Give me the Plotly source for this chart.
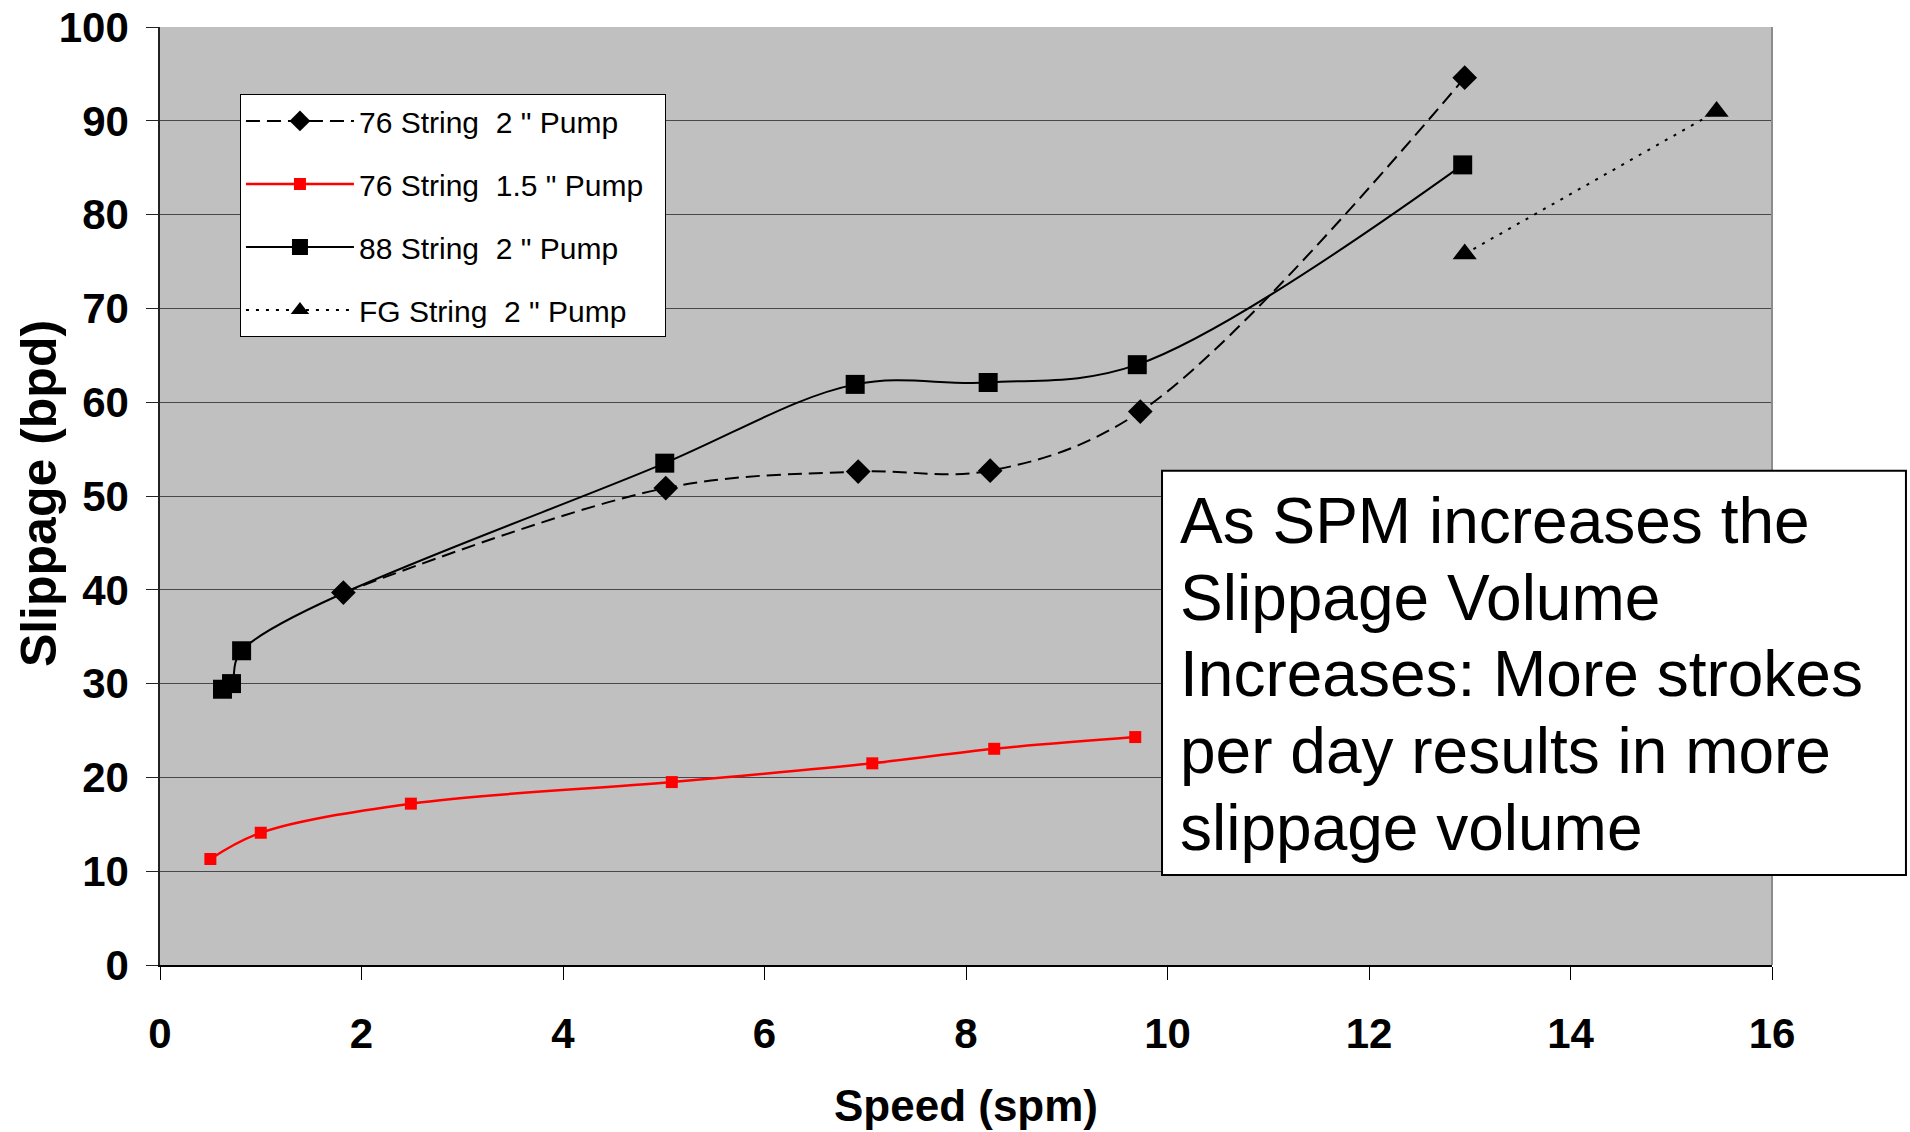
import plotly.graph_objects as go

# ---- data ----
s76_2_x = [1.82, 5.02, 6.93, 8.24, 9.73, 12.95]
s76_2_y = [39.7, 50.85, 52.6, 52.7, 59.0, 94.6]

s76_15_x = [0.50, 1.00, 2.49, 5.08, 7.07, 8.28, 9.68]
s76_15_y = [11.3, 14.1, 17.2, 19.5, 21.5, 23.05, 24.3]

s88_2_x = [0.62, 0.71, 0.81, 5.01, 6.90, 8.22, 9.70, 12.93]
s88_2_y = [29.4, 30.0, 33.5, 53.5, 61.9, 62.1, 64.0, 85.3]

fg_2_x = [12.95, 15.45]
fg_2_y = [75.8, 91.0]

names = ["76 String\u00a0 2 \" Pump", "76 String\u00a0 1.5 \" Pump\u00a0\u00a0",
         "88 String\u00a0 2 \" Pump", "FG String\u00a0 2 \" Pump"]

x_ticks = [0, 2, 4, 6, 8, 10, 12, 14, 16]
y_ticks = [0, 10, 20, 30, 40, 50, 60, 70, 80, 90, 100]

x_title = "Speed (spm)"
y_title = "Slippage (bpd)"

note_lines = ["As SPM increases the", "Slippage Volume", "Increases: More strokes",
              "per day results in more", "slippage volume"]

NARROW = "Liberation Sans Narrow, Arial Narrow, Liberation Sans, Arial, sans-serif"
ARIAL = "Liberation Sans, Arial, sans-serif"

fig = go.Figure()
fig.add_trace(go.Scatter(
    x=s76_2_x, y=s76_2_y, name=names[0], mode="lines+markers", legendgroup="a",
    line=dict(color="black", width=2, dash="14px,7px", shape="spline"),
    marker=dict(symbol="diamond", size=19, color="black")))
fig.add_trace(go.Scatter(
    x=s76_15_x, y=s76_15_y, name=names[1], mode="lines+markers", legendgroup="b",
    line=dict(color="#ff0000", width=2.5, shape="spline"),
    marker=dict(symbol="square", size=12, color="#ff0000")))
fig.add_trace(go.Scatter(
    x=s88_2_x, y=s88_2_y, name=names[2], mode="lines+markers", legendgroup="c",
    line=dict(color="black", width=2, shape="spline"),
    marker=dict(symbol="square", size=19, color="black")))
fig.add_trace(go.Scatter(
    x=fg_2_x, y=fg_2_y, name=names[3], mode="lines+markers", legendgroup="d",
    line=dict(color="black", width=2, dash="3px,7px"),
    marker=dict(symbol="triangle-up", size=21, color="black")))

# text box: one annotation per line so the line spacing matches the original
PLOT_TOP, PLOT_H = 27.0, 938.0          # pixel geometry of the plotting area
first_line_px, line_step_px = 521.0, 76.7
annotations = []
for i, line in enumerate(note_lines):
    ypx = first_line_px + i * line_step_px
    annotations.append(dict(
        text=line, xref="paper", yref="paper", x=0.6315,
        y=1 - (ypx - PLOT_TOP) / PLOT_H,
        xanchor="left", yanchor="middle", align="left", showarrow=False,
        font=dict(family=ARIAL, size=64, color="black")))

# y-axis title, placed like the original
annotations.append(dict(
    text=y_title, xref="paper", yref="paper", x=-0.0751, y=0.503,
    xanchor="center", yanchor="middle", textangle=-90, showarrow=False,
    font=dict(family=ARIAL, size=50, color="black", weight="bold")))

fig.update_layout(
    width=1910, height=1132,
    margin=dict(l=160, r=138, t=27, b=167, autoexpand=False),
    paper_bgcolor="white", plot_bgcolor="#c0c0c0",
    font=dict(family=ARIAL, color="black"),
    showlegend=True,
    legend=dict(
        x=0.0496, y=0.9286, xanchor="left", yanchor="top",
        bgcolor="white", bordercolor="black", borderwidth=1,
        font=dict(family=ARIAL, size=30, color="black"),
        traceorder="grouped", tracegroupgap=21, itemwidth=108,
    ),
    xaxis=dict(
        range=[0, 16], tickvals=x_ticks, ticktext=[str(v) for v in x_ticks],
        showgrid=False, zeroline=False, automargin=False,
        showline=True, linecolor="black", linewidth=2,
        ticks="outside", ticklen=13, tickwidth=1, tickcolor="black",
        tickfont=dict(family=NARROW, size=42, color="black", weight="bold"),
        ticklabelstandoff=18,
        title=dict(text=x_title, standoff=34,
                   font=dict(family=NARROW, size=44, color="black", weight="bold")),
    ),
    yaxis=dict(
        range=[0, 100], tickvals=y_ticks, ticktext=[str(v) for v in y_ticks],
        showgrid=True, gridcolor="#484848", gridwidth=1.3, zeroline=False,
        automargin=False,
        showline=True, linecolor="#222222", linewidth=1.5,
        ticks="outside", ticklen=12, tickwidth=1, tickcolor="#222222",
        tickfont=dict(family=NARROW, size=42, color="black", weight="bold"),
        ticklabelstandoff=9,
    ),
    shapes=[
        dict(type="line", xref="paper", yref="paper", x0=1, x1=1, y0=0, y1=1,
             line=dict(color="#8c8c8c", width=2)),
        dict(type="rect", xref="paper", yref="paper",
             x0=0.6216, x1=1.0831, y0=0.0959, y1=0.527,
             fillcolor="white", line=dict(color="black", width=2), layer="above"),
    ],
    annotations=annotations,
)

fig.write_html("out.html")
